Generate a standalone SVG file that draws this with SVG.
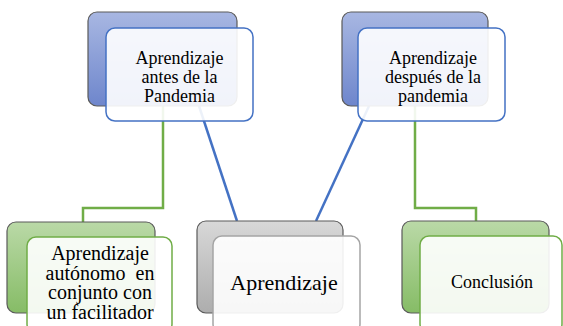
<svg xmlns="http://www.w3.org/2000/svg" width="563" height="326" viewBox="0 0 563 326">
<defs>
<linearGradient id="gBlue" x1="0" y1="0" x2="0" y2="1"><stop offset="0" stop-color="#A8B7E2"/><stop offset="1" stop-color="#6E86CC"/></linearGradient>
<linearGradient id="gGreen" x1="0" y1="0" x2="0" y2="1"><stop offset="0" stop-color="#BAD9A7"/><stop offset="1" stop-color="#86BC66"/></linearGradient>
<linearGradient id="gGray" x1="0" y1="0" x2="0" y2="1"><stop offset="0" stop-color="#D8D8D8"/><stop offset="1" stop-color="#ADADAD"/></linearGradient>
</defs>
<style>
.back{stroke:#5A5A5A;stroke-width:1.2}
.front{fill:#FFFFFF;fill-opacity:0.9;stroke-width:1.5}
.fb{stroke:#4472C4}
.fg{stroke:#70AD47}
.fy{stroke:#A5A5A5}
text{font-family:'Liberation Serif',serif;fill:#000;text-anchor:middle}
.cg{fill:none;stroke:#70AD47;stroke-width:2.5}
.cb{fill:none;stroke:#4472C4;stroke-width:2.5}
</style>
<g id="connectors">
<polyline class="cg" points="163,106 163,208 83,208 83,222"/>
<polyline class="cg" points="415,106 415,208 476,208 476,221"/>
<line class="cb" x1="199" y1="106" x2="237" y2="221"/>
<line class="cb" x1="369" y1="106" x2="316" y2="221"/>
</g>
<g id="node-antes">
<rect class="back" x="88" y="12" width="149" height="94" rx="9" fill="url(#gBlue)"/>
<rect class="front fb" x="106" y="28" width="147" height="93" rx="9"/>
<text font-family="Liberation Serif, serif" font-size="18"><tspan x="179.5" y="64">Aprendizaje</tspan><tspan x="179.5" y="83">antes de la</tspan><tspan x="179.5" y="102">Pandemia</tspan></text>
</g>
<g id="node-despues">
<rect class="back" x="342" y="12" width="146" height="94" rx="9" fill="url(#gBlue)"/>
<rect class="front fb" x="358" y="28" width="147" height="93" rx="9"/>
<text font-family="Liberation Serif, serif" font-size="18"><tspan x="433" y="64">Aprendizaje</tspan><tspan x="433" y="83">después de la</tspan><tspan x="433" y="102">pandemia</tspan></text>
</g>
<g id="node-autonomo">
<rect class="back" x="7" y="222" width="148" height="91" rx="9" fill="url(#gGreen)"/>
<rect class="front fg" x="27" y="237" width="145" height="96" rx="9"/>
<text font-family="Liberation Serif, serif" font-size="20"><tspan x="100" y="260">Aprendizaje</tspan><tspan x="100" y="279.5" xml:space="preserve">autónomo  en</tspan><tspan x="100" y="299">conjunto con</tspan><tspan x="100" y="318.5">un facilitador</tspan></text>
</g>
<g id="node-aprendizaje">
<rect class="back" x="197" y="221" width="146" height="92" rx="9" fill="url(#gGray)"/>
<rect class="front fy" x="213" y="236" width="147" height="97" rx="9"/>
<text font-family="Liberation Serif, serif" font-size="22" x="284" y="290">Aprendizaje</text>
</g>
<g id="node-conclusion">
<rect class="back" x="402" y="221" width="147" height="92" rx="9" fill="url(#gGreen)"/>
<rect class="front fg" x="420" y="236" width="142" height="97" rx="9"/>
<text font-family="Liberation Serif, serif" font-size="18" x="492" y="288">Conclusión</text>
</g>
</svg>
